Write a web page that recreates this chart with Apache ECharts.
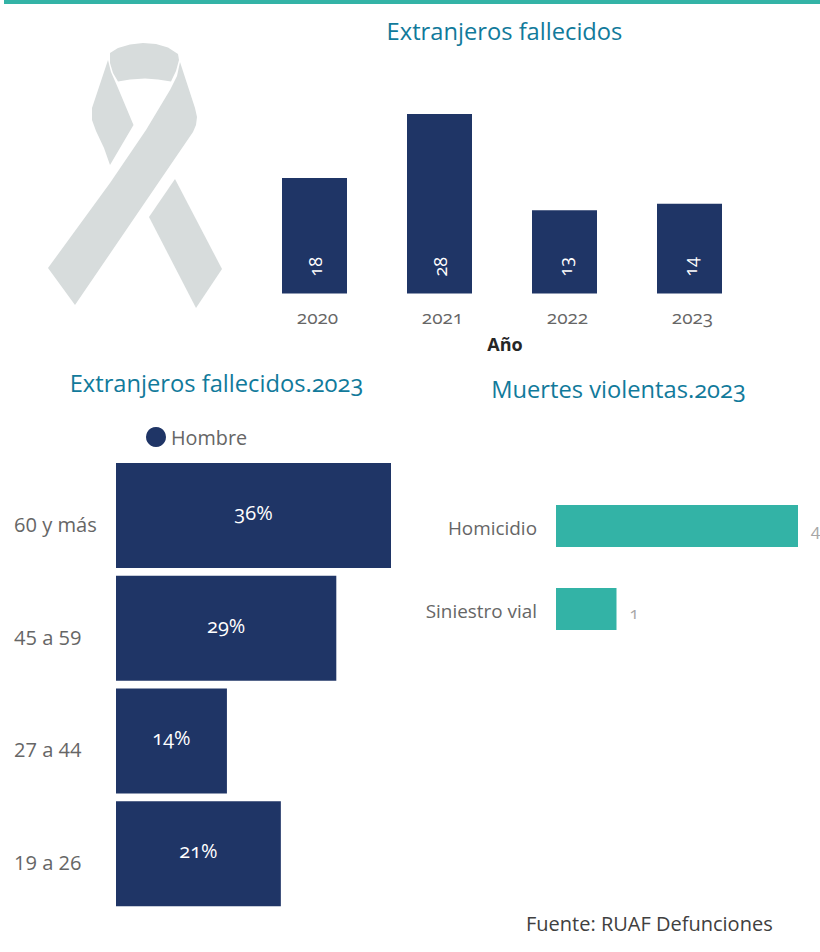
<!DOCTYPE html>
<html>
<head>
<meta charset="utf-8">
<style>
html,body{margin:0;padding:0;background:#fff}
#c{width:820px;height:952px}
#c text{font-variant-numeric:oldstyle-nums !important}
#c text[style*="20.1px"]{font-variant-numeric:lining-nums !important}
</style>
<script src="https://cdn.jsdelivr.net/npm/echarts@6/dist/echarts.min.js"></script>
</head>
<body>
<div id="c"></div>
<script>
const years = ['2020','2021','2022','2023'];
const deaths = [18,28,13,14];
const ageGroups = ['60 y más','45 a 59','27 a 44','19 a 26'];
const ageShare = [35.7,28.6,14.4,21.4];
const violentTypes = ['Homicidio','Siniestro vial'];
const violentCounts = [4,1];

const FONT = '"Open Sans"';
const NAVY = '#1f3566', TEAL = '#33b3a6', TITLE = '#117a9b', GREY = '#666666', RIBBON = '#d7dcdc';
const title = (text,x,y) => ({text,left:x,top:y,padding:0,textAlign:'center',
  textStyle:{fontFamily:FONT,fontSize:23.7,fontWeight:'normal',color:TITLE}});
const poly = points => ({type:'polygon',shape:{points},style:{fill:RIBBON},silent:true});

const chart = echarts.init(document.getElementById('c'),null,{renderer:'svg'});
chart.setOption({
  animation:false,
  backgroundColor:'#fff',
  textStyle:{fontFamily:FONT},
  title:[
    title('Extranjeros fallecidos',504.5,19),
    title('Extranjeros fallecidos.2023',216.5,371),
    title('Muertes violentas.2023',618.5,377)
  ],
  legend:{data:['Hombre'],left:146,top:427,padding:0,icon:'circle',itemWidth:20,itemHeight:20,itemGap:3,
    textStyle:{fontFamily:FONT,fontSize:19.8,color:GREY}},
  grid:[
    {left:252,width:500,top:114,height:179.5},
    {left:116,width:275,top:459,height:451},
    {left:556,width:242,top:484.5,height:166}
  ],
  xAxis:[
    {type:'category',gridIndex:0,data:years,name:'Año',nameLocation:'middle',nameGap:41,
      nameTextStyle:{fontFamily:FONT,fontSize:18,fontWeight:'bold',color:'#262626',padding:[0,0,0,6]},
      axisLine:{show:false},axisTick:{show:false},
      axisLabel:{margin:14,fontFamily:FONT,fontSize:19,color:GREY,padding:[0,0,0,6]}},
    {type:'value',gridIndex:1,min:0,max:35.7,show:false},
    {type:'value',gridIndex:2,min:0,max:4,show:false}
  ],
  yAxis:[
    {type:'value',gridIndex:0,min:0,max:28,show:false},
    {type:'category',gridIndex:1,data:ageGroups,inverse:true,
      axisLine:{show:false},axisTick:{show:false},
      axisLabel:{margin:102,align:'left',verticalAlign:'top',lineHeight:18,fontFamily:FONT,fontSize:20.1,color:GREY}},
    {type:'category',gridIndex:2,data:violentTypes,inverse:true,
      axisLine:{show:false},axisTick:{show:false},
      axisLabel:{margin:19,verticalAlign:'top',lineHeight:4,fontFamily:FONT,fontSize:18.9,color:GREY}}
  ],
  series:[
    {type:'bar',name:'Año',xAxisIndex:0,yAxisIndex:0,data:deaths,barWidth:65,itemStyle:{color:NAVY},
      label:{show:true,position:'insideBottom',distance:13,rotate:90,align:'left',verticalAlign:'middle',
        offset:[4,0],fontFamily:FONT,fontSize:18,color:'#fff'}},
    {type:'bar',name:'Hombre',xAxisIndex:1,yAxisIndex:1,data:ageShare,barWidth:105,itemStyle:{color:NAVY},
      label:{show:true,position:'inside',fontFamily:FONT,fontSize:20,color:'#fff',
        formatter:p=>Math.round(p.value)+'%',offset:[0,-3]}},
    {type:'bar',name:'Muertes',xAxisIndex:2,yAxisIndex:2,data:violentCounts,barWidth:42,itemStyle:{color:TEAL},
      label:{show:true,position:'right',distance:13,fontFamily:FONT,fontSize:17,color:'#a6a6a6',offset:[0,3]}}
  ],
  graphic:[
    {type:'rect',shape:{x:4,y:0,width:816,height:4},style:{fill:TEAL},silent:true},
    poly([[110,53],[118,48],[130,44.5],[143,43],[156,44],[168,47.5],[178,54],[179,60],[176,71],[171,81.5],[158,79.5],[145,78.5],[130,79.5],[118,81.5],[113,73],[110,63]]),
    poly([[180,62],[195,108],[197,117],[196,125],[193,132],[75,305],[48,268],[110,183],[146,130],[170,90],[177,76]]),
    poly([[108,60],[111,72],[118,88],[133.5,125],[110,165],[104,148],[96,131],[92,120],[92,108]]),
    poly([[175,179],[222,269],[196,308],[149,217]]),
    {type:'text',style:{x:526,y:923,text:'Fuente: RUAF Defunciones',verticalAlign:'middle',
      fontFamily:FONT,fontSize:20,fill:'#404040'},silent:true}
  ]
});
</script>
</body>
</html>
